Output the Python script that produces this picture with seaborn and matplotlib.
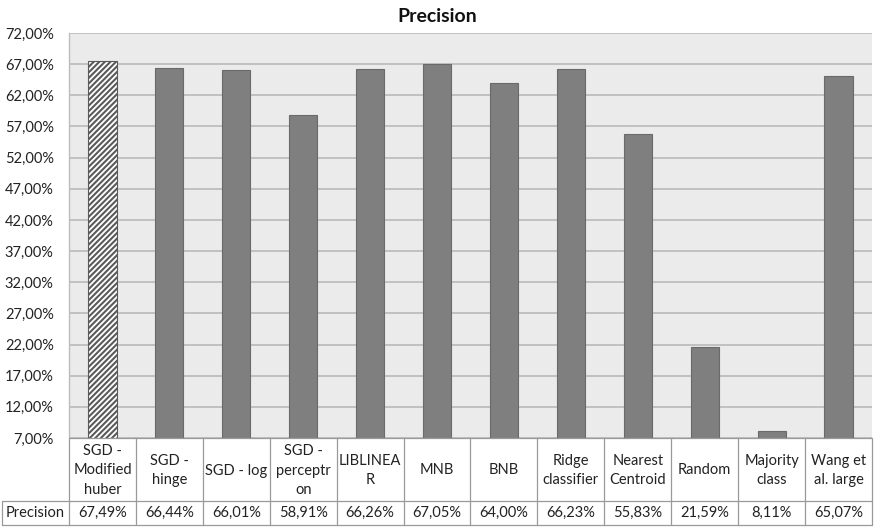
import matplotlib
matplotlib.use("Agg")
import matplotlib.pyplot as plt
import matplotlib.transforms as mtransforms
from matplotlib.ticker import FuncFormatter, FixedLocator
import seaborn as sns
import pandas as pd

# Classifier names (as they wrap in the table) and their precision in percent
categories = [
    "SGD -\nModified\nhuber", "SGD -\nhinge", "SGD - log", "SGD -\nperceptr\non",
    "LIBLINEA\nR", "MNB", "BNB", "Ridge\nclassifier", "Nearest\nCentroid",
    "Random", "Majority\nclass", "Wang et\nal. large",
]
precision = [67.49, 66.44, 66.01, 58.91, 66.26, 67.05, 64.00, 66.23, 55.83, 21.59, 8.11, 65.07]
y_ticks = [7, 12, 17, 22, 27, 32, 37, 42, 47, 52, 57, 62, 67, 72]
row_label = "Precision"
title = "Precision"

sns.set_theme(style="white")
plt.rcParams["font.family"] = ["Lato", "DejaVu Sans"]
plt.rcParams["hatch.color"] = "#333333"
plt.rcParams["hatch.linewidth"] = 1.5

W, H = 874, 527
fig = plt.figure(figsize=(W / 100, H / 100), dpi=100)
left, right, top, bottom = 69, 872, 33, 438
ax = fig.add_axes([left / W, 1 - bottom / H, (right - left) / W, (bottom - top) / H])
ax.set_facecolor("#ebebeb")

df = pd.DataFrame({"model": list(range(len(categories))), "precision": precision})
sns.barplot(data=df, x="model", y="precision", ax=ax, color="#7f7f7f",
            saturation=1, width=0.42, edgecolor="#6a6a6a", linewidth=0.8, zorder=3)

# The best model is highlighted with a hatched bar
first = ax.patches[0]
first.set_facecolor("white")
first.set_hatch("//////")
first.set_edgecolor("#5a5a5a")

ax.set_xlim(-0.5, len(categories) - 0.5)
ax.set_ylim(y_ticks[0], y_ticks[-1])
ax.yaxis.set_major_locator(FixedLocator(y_ticks))
ax.yaxis.set_major_formatter(FuncFormatter(lambda v, p: f"{v:.2f}".replace(".", ",") + "%"))
ax.grid(axis="y", color="#bdbdbd", linewidth=1.3, zorder=0)
ax.set_axisbelow(True)
ax.set_xticks([])
ax.set_xlabel("")
ax.set_ylabel("")
ax.tick_params(axis="y", length=0, pad=11, labelsize=10.5, labelcolor="#222222")
for side, sp in ax.spines.items():
    sp.set_visible(side == "left")
ax.spines["left"].set_color("#bdbdbd")
ax.spines["left"].set_linewidth(1.0)

fy = lambda y: 1 - y / H
fx = lambda x: x / W
fig.text(fx(437), fy(17), title, ha="center", va="center", fontsize=14,
         fontweight="bold", color="#111111")

# Data table underneath the bars
tr = mtransforms.blended_transform_factory(ax.transData, fig.transFigure)
line_kw = dict(color="#9a9a9a", linewidth=0.9, clip_on=False)
row1_bottom, row2_bottom = 501, 525
n = len(categories)
for i in range(n + 1):
    ax.plot([i - 0.5, i - 0.5], [fy(bottom), fy(row2_bottom)], transform=tr, **line_kw)
for yy in (row1_bottom, row2_bottom):
    fig.add_artist(plt.Line2D([fx(2), fx(right)], [fy(yy), fy(yy)], transform=fig.transFigure, **line_kw))
fig.add_artist(plt.Line2D([fx(2), fx(2)], [fy(row1_bottom), fy(row2_bottom)], transform=fig.transFigure, **line_kw))
fig.add_artist(plt.Line2D([fx(left), fx(right)], [fy(bottom), fy(bottom)], transform=fig.transFigure, **line_kw))

txt_kw = dict(ha="center", va="center", fontsize=10.5, color="#222222", linespacing=1.5)
for i, (cat, val) in enumerate(zip(categories, precision)):
    ax.text(i, fy((bottom + row1_bottom) / 2 + 1), cat, transform=tr, **txt_kw)
    ax.text(i, fy((row1_bottom + row2_bottom) / 2), f"{val:.2f}".replace(".", ",") + "%", transform=tr, **txt_kw)
fig.text(fx((2 + left) / 2), fy((row1_bottom + row2_bottom) / 2), row_label, **txt_kw)

fig.savefig("out.png", dpi=100, facecolor="white")
